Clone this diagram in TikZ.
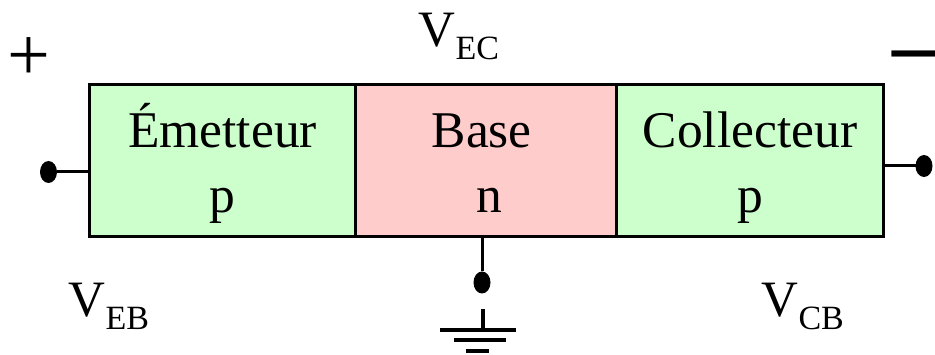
\documentclass[tikz,border=0pt]{standalone}
\usepackage{fontspec}
\setmainfont{Liberation Serif}
\usetikzlibrary{positioning,shapes.geometric}
\definecolor{ZoneGreen}{RGB}{204,255,204}
\definecolor{ZoneRed}{RGB}{255,204,204}
\newcommand{\volt}[2]{V\raisebox{-13pt}{\fontsize{34}{34}\selectfont #1#2}}

\begin{document}
\begin{tikzpicture}[
  x=1pt, y=-1pt,
  zone/.style={draw, line width=3pt, minimum height=152pt, inner sep=0pt, outer sep=0pt, align=center,
    text height=104pt, text depth=0pt, font=\fontsize{51.5}{65}\selectfont},
  lead/.style={line width=3pt},
  pin/.style={ellipse, fill=black, minimum width=17pt, minimum height=22pt, inner sep=0pt, outer sep=0pt},
  earth/.style={line width=4pt},
  lbl/.style={anchor=base west, inner sep=0pt, font=\fontsize{51}{51}\selectfont}
]
  \useasboundingbox (0,0) rectangle (935,355);

  \node[zone, fill=ZoneGreen, minimum width=266.5pt] (emetteur) at (222.5,161) {Émetteur\\p};
  \node[zone, fill=ZoneRed, minimum width=261pt, right=0pt of emetteur] (base) {\hspace*{-9pt}Base\\\hspace*{6pt}n};
  \node[zone, fill=ZoneGreen, minimum width=266.7pt, right=0pt of base] (collecteur) {Collecteur\\p};

  \node[pin] (pinE) at (48.5,172) {};
  \node[pin] (pinC) at (924,166) {};
  \node[pin] (pinB) at (482,282.5) {};

  \draw[lead] (pinE) -- (emetteur.west |- pinE);
  \draw[lead] (pinC) -- (collecteur.east |- pinC);
  \draw[lead] (pinB) -- (pinB |- base.south);

  % Ground
  \coordinate (gndTop) at (482.5,309);
  \coordinate (gndA) at (482.5,330);
  \draw[earth] (gndTop) -- (gndA);
  \draw[earth] ([xshift=-42.5pt]gndA) -- ([xshift=33.5pt]gndA);
  \draw[earth] ([xshift=-28.5pt,yshift=-10.5pt]gndA) -- ([xshift=23.5pt,yshift=-10.5pt]gndA);
  \draw[earth] ([xshift=-16.5pt,yshift=-21.5pt]gndA) -- ([xshift=6.5pt,yshift=-21.5pt]gndA);

  % Voltage labels
  \node[lbl] (vec) at (418.5,47) {\volt{E}{C}};
  \node[lbl] (veb) at (68.5,317) {\volt{E}{B}};
  \node[lbl] (vcb) at (761.5,317) {\volt{C}{B}};
  \node[lbl, font=\fontsize{76}{76}\selectfont] (plus) at (7,81) {+};
  \node[lbl, font=\bfseries\fontsize{88}{88}\selectfont] (minus) at (892,75) {–};
\end{tikzpicture}
\end{document}
